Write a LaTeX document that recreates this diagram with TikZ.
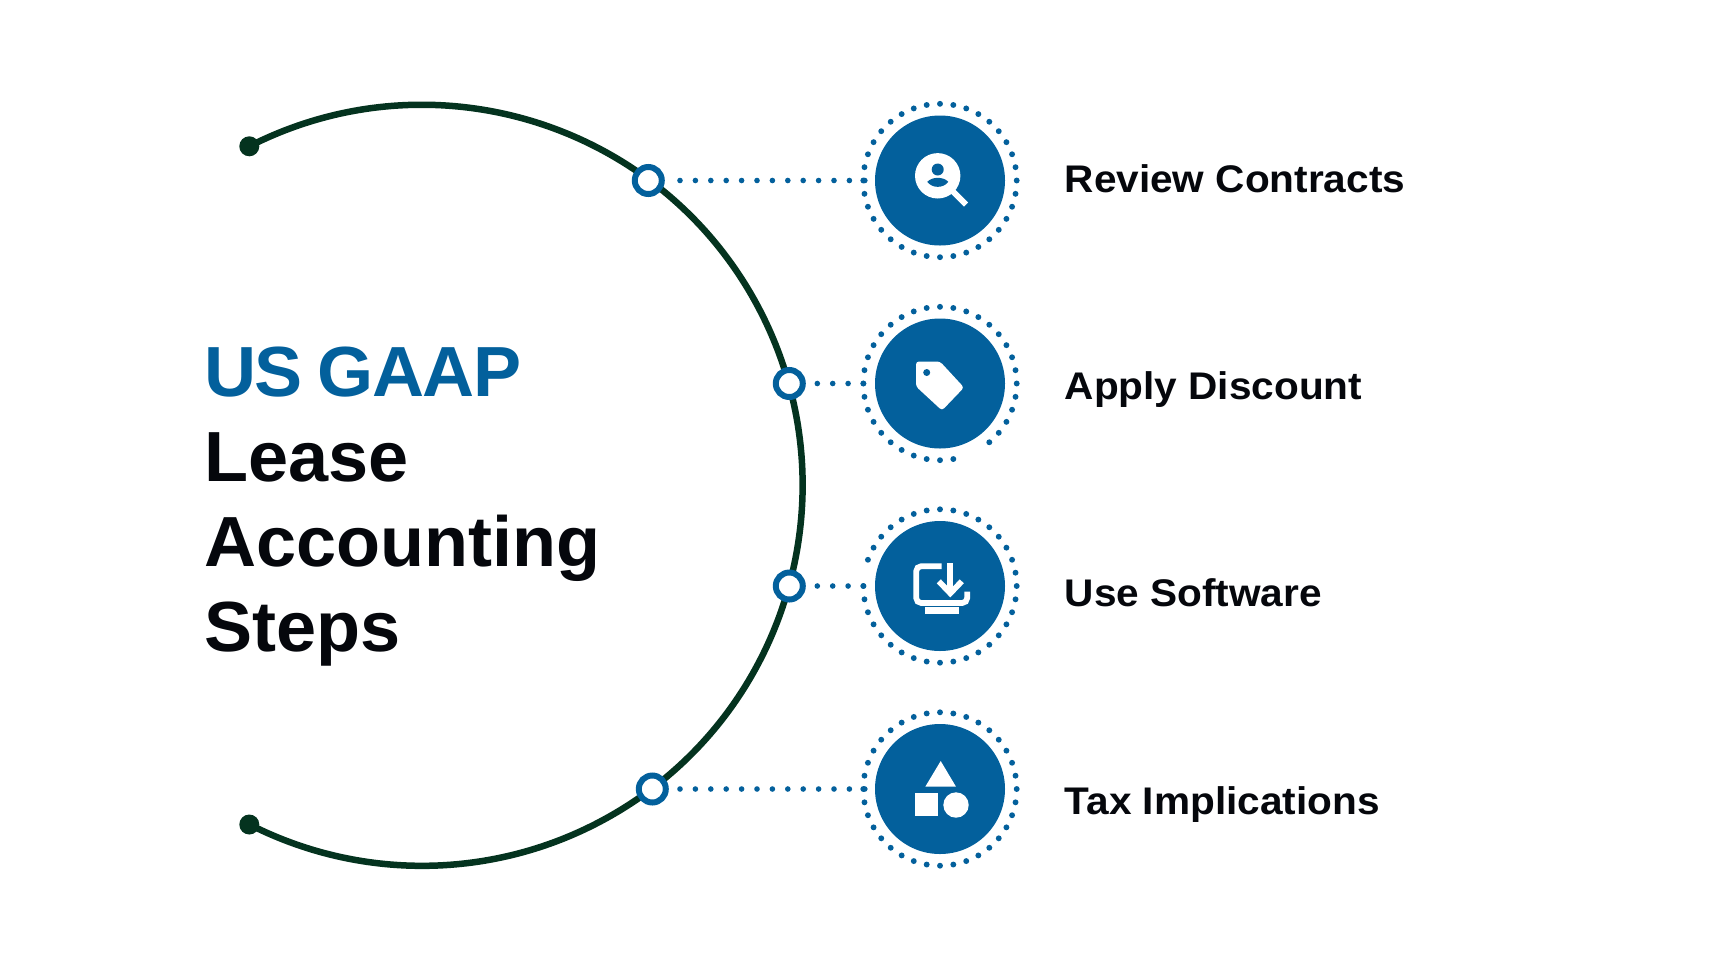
\documentclass[tikz,border=0pt]{standalone}
\usepackage{fontspec}
\usepackage{xcolor}
\usetikzlibrary{positioning}
\setmainfont{Liberation Sans}
\newfontfamily\stepfont[FakeStretch=1.054]{Liberation Sans}
\newfontfamily\titlefont[FakeStretch=1.015]{Liberation Sans}
\definecolor{gaapblue}{HTML}{03609C}
\definecolor{arcgreen}{HTML}{04331F}
\definecolor{titleblack}{HTML}{05070C}
\tikzstyle{endpoint}=[circle,fill=arcgreen,minimum size=20pt,inner sep=0pt]
\tikzstyle{ringnode}=[circle,fill=white,draw=gaapblue,line width=6pt,minimum size=27pt,inner sep=0pt]
\tikzstyle{iconcircle}=[circle,fill=gaapblue,minimum size=130pt,inner sep=0pt]
\tikzstyle{dotline}=[draw=gaapblue,line width=5.6pt,line cap=round,dash pattern=on 0pt off 15.4pt]
\tikzstyle{steplabel}=[anchor=base west,inner sep=0pt,font=\fontsize{38.5}{38.5}\stepfont\bfseries,text=titleblack]
\tikzstyle{titleline}=[anchor=base west,inner sep=0pt,font=\fontsize{71}{71}\titlefont\bfseries,text=titleblack]
\tikzset{iconfill/.style={fill=white,draw=none}}
\begin{document}
\begin{tikzpicture}[x=1pt,y=-1pt]

  \useasboundingbox (0,0) rectangle (1722,970);

  % main arc
  \def\r{380.5};
  \node[endpoint] (endtop) at (249.3,146.3) {};
  \node[endpoint] (endbot) at (249.3,824.5) {};
  \draw[arcgreen,line width=6.5pt] (endtop.center) arc[start angle=-117,end angle=117,radius=\r];

  \foreach \x/\y/\name in {940/180.5/one, 940/383.5/two, 940/586/three, 940/789/four}
     \node[iconcircle] (icon\name) at (\x,\y) {};

  \foreach \x/\y/\name in {648.3/180.5/one, 789.3/383.5/two, 789.3/586/three, 652.3/789/four}
     \node[ringnode] (ring\name) at (\x,\y) {};

  % dotted connectors
  \foreach \name/\lead in {one/15.2, two/11.5, three/11.5, four/11.2}
     \draw[dotline,shorten <=\lead pt,shorten >=2pt] (ring\name) -- (icon\name);

  % dotted rings, some dots are missing in the source
  \foreach \name/\skipa/\skipb in {one/999/999, two/290/300, three/170/170, four/999/999}
     \foreach \a in {0,10,...,350} {
        \pgfmathparse{int((\a==\skipa)||(\a==\skipb))}
        \ifnum\pgfmathresult=0
           \fill[gaapblue] (icon\name) ++(\a:76.7 and -76.7) circle (2.95);
        \fi
     }

  % icon: search person
  \begin{scope}[shift={(iconone.center)}]
    \fill[iconfill] (-2.3,-4.7) circle (22.7);
    \draw[white,line width=6pt] (10,8) -- (26,24);
    \fill[gaapblue] (-2.3,-11) circle (6);
    \fill[gaapblue] (-12.7,1.3) .. controls (-8,-4) and (3.5,-4) .. (8.3,1.3) .. controls (3.5,8) and (-8,8) .. (-12.7,1.3) -- cycle;
  \end{scope}

  % icon: tag
  \begin{scope}[shift={(icontwo.center)}]
    \fill[iconfill,rounded corners=3pt] (-24,-22) -- (0,-22) -- (24,4) -- (2,27) -- (-24,3) -- cycle;
    \fill[gaapblue] (-13.3,-11) circle (3.5);
  \end{scope}

  % icon: software download
  \begin{scope}[shift={(iconthree.center)}]
    \draw[white,line width=5.7pt,rounded corners=5pt] (1.7,-19.8) -- (-23.8,-19.8) -- (-23.8,17) -- (27.2,17) -- (27.2,5.7);
    \fill[iconfill] (-15,21.3) rectangle (19,28.3);
    \draw[white,line width=5.7pt] (10.3,-22.7) -- (10.3,7);
    \draw[white,line width=5.7pt] (-1.2,-4.7) -- (10.3,7.3) -- (21.8,-4.7);
  \end{scope}

  % icon: shapes
  \begin{scope}[shift={(iconfour.center)}]
    \fill[iconfill] (0.7,-28) -- (16,-2.3) -- (-14.7,-2.3) -- cycle;
    \fill[iconfill] (-24.7,4.3) rectangle (-2,27);
    \fill[iconfill] (16,16) circle (12.7);
  \end{scope}

  \node[titleline,text=gaapblue] (titleone) at (204,396.7) {\addfontfeature{LetterSpace=-2.2}US\hspace{15pt}GAAP};
  \node[titleline] (titletwo) at (204,481.7) {Lease};
  \node[titleline] (titlethree) at (204,566.7) {Accounting};
  \node[titleline] (titlefour) at (204,651.7) {Steps};

  \foreach \y/\name/\label in {192.7/one/Review Contracts, 399.7/two/Apply Discount, 606.7/three/Use Software, 814/four/Tax Implications}
     \node[steplabel] (label\name) at (1064.5,\y) {\label};

\end{tikzpicture}
\end{document}
